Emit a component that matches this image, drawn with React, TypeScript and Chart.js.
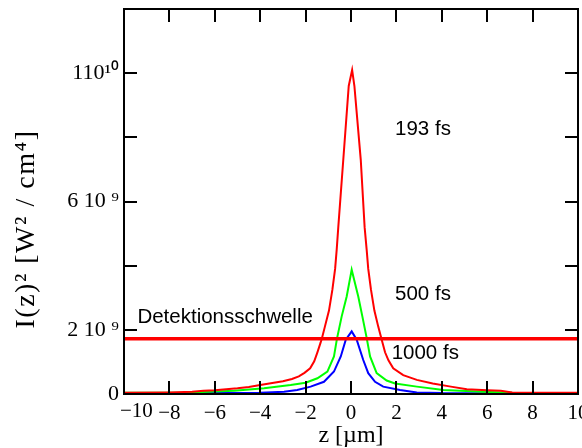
import React, { useEffect, useRef } from 'react';
import { Chart, registerables } from 'chart.js';

Chart.register(...registerables);

// z positions (µm) and I(z)^2 values (in units of 1e9 W²/cm⁴)
const zRed = [-10, -8, -7, -6.5, -6, -5, -4.5, -4, -3.4, -3, -2.6, -2.3, -2.05, -1.8, -1.62, -1.48, -1.34, -1.28, -1.15, -0.97, -0.82, -0.7, -0.63, -0.56, -0.34, -0.1, 0.05, 0.15, 0.43, 0.6, 0.69, 0.76, 0.88, 1.03, 1.2, 1.35, 1.5, 1.65, 1.86, 2.3, 2.9, 3.6, 4.4, 5.1, 6.0, 6.6, 7.1, 8, 10];
const vRed = [0.04, 0.05, 0.07, 0.1, 0.12, 0.18, 0.22, 0.28, 0.35, 0.4, 0.47, 0.55, 0.66, 0.8, 1.02, 1.3, 1.6, 1.74, 2.1, 2.6, 3.25, 3.9, 4.5, 5.2, 7.3, 9.6, 10.1, 9.6, 7.3, 5.2, 4.5, 3.9, 3.25, 2.6, 2.1, 1.7, 1.3, 1.05, 0.8, 0.59, 0.44, 0.33, 0.23, 0.15, 0.12, 0.1, 0.05, 0.04, 0.04];

const zGreen = [-10, -7.1, -5.15, -3.83, -2.66, -2.0, -1.48, -1.04, -0.75, -0.62, -0.41, -0.19, 0.03, 0.32, 0.5, 0.69, 0.84, 1.13, 1.57, 1.94, 2.9, 4.07, 5.8, 7.1, 10];
const vGreen = [0.04, 0.05, 0.1, 0.18, 0.28, 0.35, 0.49, 0.7, 1.17, 1.72, 2.42, 3.04, 3.875, 3.04, 2.42, 1.75, 1.17, 0.65, 0.42, 0.33, 0.23, 0.125, 0.07, 0.04, 0.03];

const zBlue = [-10, -4, -2.95, -2.37, -1.78, -1.19, -0.75, -0.45, -0.23, 0.03, 0.25, 0.54, 0.76, 1.06, 1.42, 2.16, 2.9, 4, 10];
const vBlue = [0.02, 0.04, 0.07, 0.125, 0.23, 0.38, 0.7, 1.17, 1.69, 1.95, 1.69, 1.06, 0.65, 0.38, 0.23, 0.125, 0.05, 0.03, 0.02];

const thresholdZ = [-10, 10];
const thresholdV = [1.72, 1.72];

const yTickLabels: Record<number, string> = { 0: '0', 2: '2 10 ⁹', 6: '6 10 ⁹', 10: '110¹⁰' };
const firstXLabel = '−10';

const noteTexts = ['193 fs', '500 fs', '1000 fs', 'Detektionsschwelle'];
const noteZ = [1.94, 1.94, 1.79, -9.41];
const noteV = [8.25, 3.1, 1.28, 2.4];

const xTitle = 'z [µm]';
const yTitle = 'I(z)² [W² / cm⁴]';

const toPoints = (xs: number[], ys: number[]) => xs.map((x, i) => ({ x, y: ys[i] }));

const framePlugin = {
  id: 'frame',
  afterDatasetsDraw(chart: any) {
    const { ctx, chartArea, scales } = chart;
    const { left, right, top, bottom } = chartArea;
    const xs = scales.x;
    const ys = scales.y;
    ctx.save();
    ctx.strokeStyle = '#000';
    ctx.lineWidth = 2;
    const L = 13;
    ctx.beginPath();
    xs.ticks.forEach((t: any) => {
      const px = Math.round(xs.getPixelForValue(t.value));
      if (px <= left + 2 || px >= right - 2) return;
      ctx.moveTo(px, bottom);
      ctx.lineTo(px, bottom - L);
      ctx.moveTo(px, top);
      ctx.lineTo(px, top + L);
    });
    ys.ticks.forEach((t: any) => {
      const py = Math.round(ys.getPixelForValue(t.value));
      if (py <= top + 2) return;
      ctx.moveTo(left, py);
      ctx.lineTo(left + L, py);
      ctx.moveTo(right, py);
      ctx.lineTo(right - L, py);
    });
    ctx.stroke();
    ctx.strokeRect(left, top, right - left, bottom - top);

    // first x tick label, shifted inward
    ctx.fillStyle = '#000';
    ctx.font = '21px "Liberation Serif"';
    ctx.textAlign = 'left';
    ctx.textBaseline = 'top';
    ctx.fillText(firstXLabel, xs.getPixelForValue(-10) - 4, bottom + 7);

    // annotations
    ctx.font = '20.5px "Liberation Sans"';
    ctx.textAlign = 'left';
    ctx.textBaseline = 'middle';
    noteTexts.forEach((txt, i) => {
      ctx.fillText(txt, xs.getPixelForValue(noteZ[i]), ys.getPixelForValue(noteV[i]));
    });

    // axis titles
    ctx.font = '24px "Liberation Serif"';
    ctx.textAlign = 'center';
    ctx.textBaseline = 'middle';
    ctx.fillText(xTitle, (left + right) / 2, 436);
    ctx.translate(27, 229);
    ctx.rotate(-Math.PI / 2);
    ctx.font = '28px "Liberation Serif"';
    (ctx as any).letterSpacing = '1.5px';
    ctx.fillText(yTitle, 0, 0);
    ctx.restore();
  },
};

export default function App() {
  const ref = useRef<HTMLCanvasElement | null>(null);
  useEffect(() => {
    if (!ref.current) return;
    const chart = new Chart(ref.current, {
      type: 'line',
      data: {
        datasets: [
          { data: toPoints(thresholdZ, thresholdV), borderColor: '#ff0000', borderWidth: 3.5, pointRadius: 0 },
          { data: toPoints(zRed, vRed), borderColor: '#ff0000', borderWidth: 2, pointRadius: 0 },
          { data: toPoints(zGreen, vGreen), borderColor: '#00ff00', borderWidth: 2, pointRadius: 0 },
          { data: toPoints(zBlue, vBlue), borderColor: '#0000ff', borderWidth: 2, pointRadius: 0 },
        ],
      },
      options: {
        responsive: false,
        animation: false,
        layout: { padding: { left: 0, right: 4, top: 9, bottom: 0 } },
        plugins: { legend: { display: false }, tooltip: { enabled: false } },
        scales: {
          x: {
            type: 'linear',
            min: -10,
            max: 10,
            grid: { display: false, drawTicks: false },
            border: { display: false },
            ticks: {
              stepSize: 2,
              padding: 7,
              color: '#000',
              autoSkip: false,
              maxRotation: 0,
              font: { family: 'Liberation Serif', size: 21 },
              callback: (v: any) => (v === -10 ? '' : String(v).replace('-', '−')),
            },
            afterFit: (s: any) => {
              s.height = 54;
              s.paddingLeft = 0;
              s.paddingRight = 0;
            },
          },
          y: {
            type: 'linear',
            min: 0,
            max: 12,
            grid: { display: false, drawTicks: false },
            border: { display: false },
            ticks: {
              stepSize: 2,
              padding: 5,
              color: '#000',
              autoSkip: false,
              font: { family: 'Liberation Serif', size: 22 },
              callback: (v: any) => yTickLabels[v as number] ?? '',
            },
            afterFit: (s: any) => {
              s.width = 124;
              s.paddingTop = 0;
              s.paddingBottom = 0;
            },
          },
        },
      },
      plugins: [framePlugin],
    });
    return () => chart.destroy();
  }, []);
  return (
    <div style={{ position: 'absolute', left: 0, top: 0, width: 582, height: 448, background: '#fff' }}>
      <canvas ref={ref} width={582} height={448} />
    </div>
  );
}
